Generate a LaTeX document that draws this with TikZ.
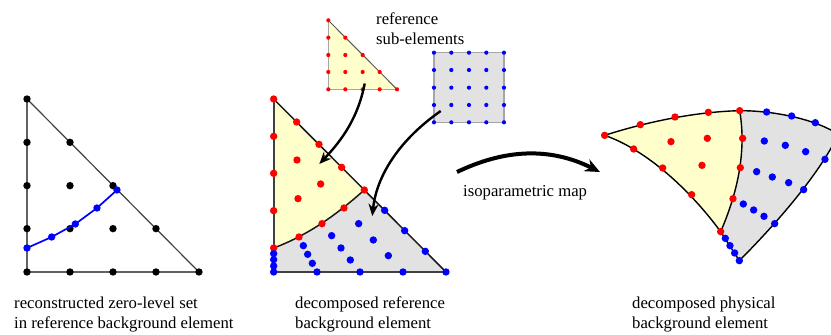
\documentclass[tikz,border=0pt]{standalone}
\usepackage{fontspec}
\setmainfont{Liberation Serif}
\usetikzlibrary{arrows.meta}
\definecolor{ylw}{RGB}{255,255,204}
\definecolor{gry}{RGB}{226,226,226}
\definecolor{rdot}{RGB}{255,0,0}
\definecolor{bdot}{RGB}{0,0,255}
\tikzset{
  lbl/.style={anchor=base west,inner sep=0pt,font=\fontsize{16.7}{18}\selectfont},
  edge3/.style={line width=1.4pt,black},
  thickgray/.style={line width=2pt,black!62},
  bthick/.style={line width=2pt,black!75},
  refedge/.style={line width=1.3pt,black!35},
  flow/.style={line width=2.4pt,-{Stealth[length=12pt,width=10pt]}},
}
\newcommand{\pts}[3]{\foreach \a/\b in {#3} \fill[#1] (\a,\b) circle (#2);}
\begin{document}
\begin{tikzpicture}[x=1pt,y=-1pt]
\useasboundingbox (0,0) rectangle (831,335);
% left triangle
\begin{scope}[shift={(0,90)},x=0.3333pt,y=-0.3333pt]
  \draw[thickgray] (81,27) -- (81,546) -- (597,546);
  \draw[line width=1.2pt,black!75] (81,27) -- (597,546);
  \pts{black}{3.7pt}{81/27,81/157,210/157,81/287,210/287,339/287,81/416,210/416,339/416,468/416,81/546,210/546,339/546,468/546,597/546}
  \draw[line width=1.7pt,bdot] (81,474) -- (155,441) -- (226,402) -- (291,354) -- (351,300);
  \pts{bdot}{3.7pt}{81/474,155/441,226/402,291/354,351/300}
\end{scope}
% middle triangle
\begin{scope}[shift={(260,90)},x=0.3333pt,y=-0.3333pt]
  \fill[ylw] (41,27) -- (313,300) .. controls (252,354) and (160,430) .. (41,474) -- cycle;
  \fill[gry] (41,474) .. controls (160,430) and (252,354) .. (313,300) -- (558,546) -- (41,546) -- cycle;
  \draw[bthick] (41,27) -- (41,546) -- (558,546);
  \draw[line width=1.5pt,black!90] (41,27) -- (558,546);
  \draw[line width=1.5pt,black!90] (41,474) .. controls (160,430) and (252,354) .. (313,300);
  \pts{rdot}{3.7pt}{41/27,110/96,177/163,245/232,313/300,41/139,41/250,41/362,41/474,117/441,186/401,252/354,111/210,182/282,114/326}
  \pts{bdot}{3.7pt}{374/361,434/422,496/484,558/546,41/546,171/546,300/546,429/546,41/491,41/509,41/528,130/467,143/493,157/520,215/437,243/474,271/510,296/401,340/450,385/497}
\end{scope}
% reference sub-elements
\begin{scope}[shift={(310,10)},x=0.3333pt,y=-0.3333pt]
  \fill[ylw] (55,31) -- (261,238) -- (55,238) -- cycle;
  \draw[refedge] (55,238) -- (55,31);
  \draw[refedge] (55,238) -- (261,238);
  \draw[line width=1pt,black!65] (55,31) -- (261,238);
  \foreach \a in {55,106,158,209,261} \fill[rdot] (\a,238) circle (2.1pt);
  \foreach \a in {55,106,158,209} \fill[rdot] (\a,186) circle (2.1pt);
  \foreach \a in {55,106,158} \fill[rdot] (\a,135) circle (2.1pt);
  \foreach \a in {55,106} \fill[rdot] (\a,83) circle (2.1pt);
  \fill[rdot] (55,31) circle (2.1pt);
  \fill[gry] (372,128) rectangle (582,337);
  \draw[refedge] (372,128) rectangle (582,337);
  \foreach \a in {372,424,477,529,582} \foreach \b in {128,180,233,285,337} \fill[bdot] (\a,\b) circle (2.1pt);
\end{scope}
% physical element
\begin{scope}[shift={(590,100)},x=0.3333pt,y=-0.3333pt]
  \fill[ylw] (44,106) .. controls (150,72) and (300,36) .. (449,32) .. controls (466,130) and (455,250) .. (392,395) .. controls (300,270) and (170,150) .. (44,106) -- cycle;
  \fill[gry] (449,32) .. controls (560,32) and (680,60) .. (745,103) .. controls (690,220) and (560,370) .. (448,482) -- (392,395) .. controls (455,250) and (466,130) .. (449,32) -- cycle;
  \draw[edge3] (44,106) .. controls (150,72) and (300,36) .. (449,32);
  \draw[edge3] (449,32) .. controls (466,130) and (455,250) .. (392,395);
  \draw[edge3] (44,106) .. controls (170,150) and (300,270) .. (392,395);
  \draw[edge3] (449,32) .. controls (560,32) and (680,60) .. (745,103);
  \draw[edge3] (745,103) .. controls (690,220) and (560,370) .. (448,482);
  \draw[edge3] (392,395) -- (448,482);
  \pts{rdot}{3.7pt}{44/106,151/74,255/51,355/37,449/32,131/147,218/204,305/284,392/395,458/115,451/203,429/296,243/125,352/115,336/196}
  \pts{bdot}{3.7pt}{530/36,605/48,676/68,705/178,641/269,554/371,448/482,406/415,420/437,434/459,523/123,586/136,647/155,500/215,547/231,596/248,460/312,491/330,522/349}
\end{scope}
% connectors
\coordinate (a1s) at (364.7,83.5);
\coordinate (a1e) at (319.3,164);
\coordinate (a2s) at (440.7,111);
\coordinate (a2e) at (372.3,216);
\coordinate (a3s) at (457,172);
\coordinate (a3e) at (600,172);
\draw[flow] (a1s) .. controls (358,118) and (342,140) .. (a1e);
\draw[flow] (a2s) .. controls (395,143) and (376,180) .. (a2e);
\draw[line width=4pt,-{Stealth[length=15pt,width=13pt]}] (a3s) .. controls (505,149) and (550,147) .. (a3e);
% labels
\node[lbl] (t1) at (376,24) {reference};
\node[lbl] (t2) at (376,44) {sub-elements};
\node[lbl] (t3) at (463,196) {isoparametric map};
\node[lbl] (t4) at (14,308) {reconstructed zero-level set};
\node[lbl] (t5) at (14,328) {in reference background element};
\node[lbl] (t6) at (295,308) {decomposed reference};
\node[lbl] (t7) at (295,328) {background element};
\node[lbl] (t8) at (632,308) {decomposed physical};
\node[lbl] (t9) at (632,328) {background element};
\end{tikzpicture}
\end{document}
